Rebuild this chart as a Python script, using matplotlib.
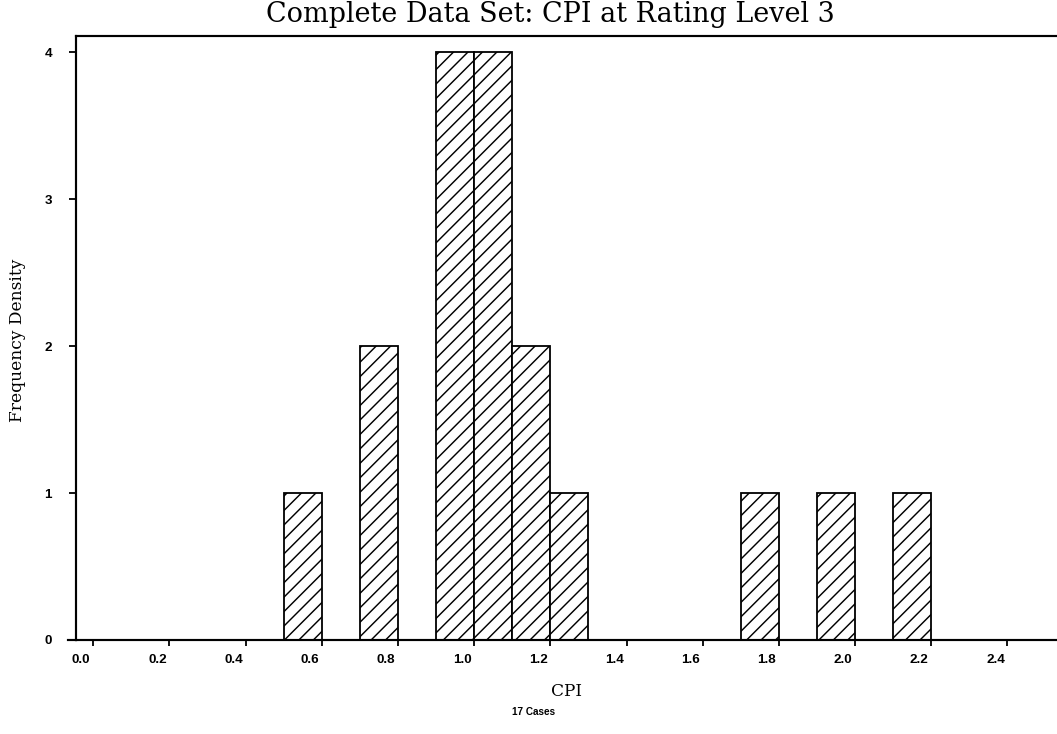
import matplotlib
matplotlib.use("Agg")
import matplotlib.pyplot as plt
from matplotlib.transforms import ScaledTranslation

# Histogram of CPI values (bin width 0.1)
bin_left = [0.5, 0.7, 0.9, 1.0, 1.1, 1.2, 1.7, 1.9, 2.1]
density = [1, 2, 4, 4, 2, 1, 1, 1, 1]
bin_width = 0.1
x_ticks = [0.0, 0.2, 0.4, 0.6, 0.8, 1.0, 1.2, 1.4, 1.6, 1.8, 2.0, 2.2, 2.4]
y_ticks = [0, 1, 2, 3, 4]
n_cases = 17

DPI = 130
W, H = 1057, 734


def pt(px):
    return px * 72.0 / DPI


plt.rcParams["hatch.linewidth"] = 0.8
plt.rcParams["hatch.color"] = "black"

fig = plt.figure(figsize=(W / DPI, H / DPI), dpi=DPI)
ax = fig.add_axes([76 / W, (H - 640) / H, 1 - 76 / W, (640 - 36) / H])

ax.bar(bin_left, density, width=bin_width, align="edge",
       facecolor="white", edgecolor="black", linewidth=1.0, hatch="///")

ax.set_xlim(-0.045, 2.53)
ax.set_ylim(0, 4.11)
ax.set_xticks(x_ticks)
ax.set_xticklabels([f"{v:.1f}" for v in x_ticks])
ax.set_yticks(y_ticks)
ax.set_yticklabels([str(v) for v in y_ticks])

tick_font = dict(family="Liberation Sans", weight="bold", size=pt(13.5))
for lab in ax.get_xticklabels() + ax.get_yticklabels():
    lab.set_fontproperties(tick_font)
ax.tick_params(axis="x", direction="out", length=pt(6), width=1, pad=pt(8))
ax.tick_params(axis="y", direction="out", length=pt(7), width=1, pad=pt(17))

shift = ScaledTranslation(-12 / DPI, 0, fig.dpi_scale_trans)
for lab in ax.get_xticklabels():
    lab.set_transform(lab.get_transform() + shift)

ax.spines["right"].set_visible(False)
for s in ("left", "bottom", "top"):
    ax.spines[s].set_linewidth(1.2)

# short extension of the baseline to the left of the vertical axis
ax.plot([-0.008, 0], [0, 0], transform=ax.transAxes, color="black",
        lw=1.2, clip_on=False)

serif = "DejaVu Serif"
fig.text(550 / W, 1 - 14 / H, "Complete Data Set: CPI at Rating Level 3",
         ha="center", va="center", family=serif, size=pt(27))
fig.text(18 / W, 1 - 340 / H, "Frequency Density", rotation=90,
         ha="center", va="center", family=serif, size=pt(17))
fig.text(566 / W, 1 - 692 / H, "CPI", ha="center", va="center",
         family=serif, size=pt(17))
fig.text(534 / W, 1 - 712 / H, f"{n_cases} Cases", ha="center", va="center",
         family="Liberation Sans", weight="bold", size=pt(10))

fig.savefig("out.png", dpi=DPI)
